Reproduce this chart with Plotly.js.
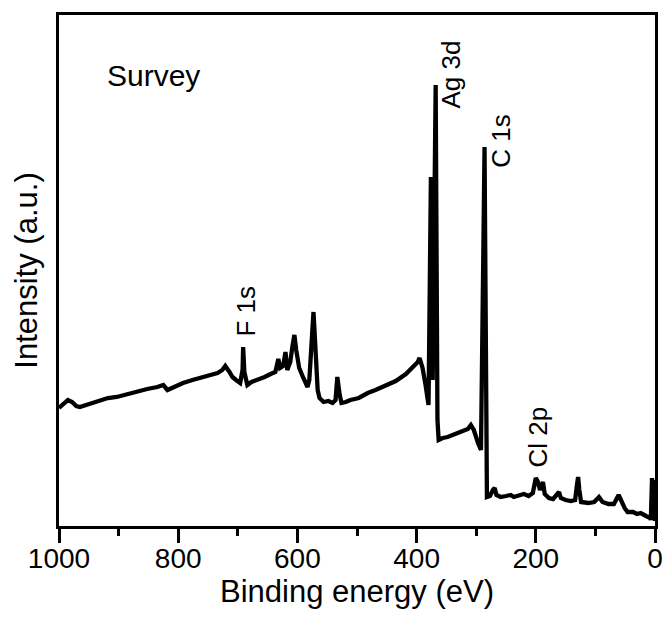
<!DOCTYPE html>
<html>
<head>
<meta charset="utf-8">
<script src="https://cdn.plot.ly/plotly-3.0.1.min.js"></script>
<style>html,body{margin:0;padding:0;background:#fff;}#chart{width:667px;height:621px;}</style>
</head>
<body>
<div id="chart"></div>
<script>
// Binding energy (eV)
const bindingEnergy = [1000,992,985,978,971,965,955,943,931,918,903,886,869,852,835,825,818,805,792,776,763,750,734,726,721,714,709,703,696,692,691,689,684,677,667,655,645,637,632,629,624,620,617,612,608,605,602,597,590,583,580,576,573,570,566,563,556,548,541,536,533,529,526,519,511,497,482,469,452,435,418,405,398,395,390,385,380,376,373,368,365,363,356,348,339,331,323,314,309,304,297,292,289,286,282,277,272,269,266,259,250,242,237,229,220,212,205,200,197,193,188,185,178,171,165,161,158,150,141,134,131,129,127,124,112,102,94,88,78,69,61,56,51,46,37,30,24,15,8,7,5,3,2,0];
// Intensity (a.u.)
const intensity = [118,122,126,124,120,119,121,123,125,128,129,132,134,137,139,141,136,140,143,146,148,150,153,156,160,154,149,146,143,156,179,154,141,144,146,149,152,154,167,158,160,174,156,164,181,191,176,158,148,139,146,186,214,181,136,128,124,125,123,126,149,131,123,124,126,128,133,136,140,145,152,159,164,168,158,141,121,349,146,441,106,86,88,89,91,93,95,97,101,96,83,76,226,379,29,30,36,38,31,29,30,31,29,30,32,30,33,48,45,36,44,32,28,27,31,34,28,26,25,26,41,49,36,24,23,24,29,24,22,22,31,23,18,14,14,12,13,10,8,6,48,6,46,5];

const tickValues = [0,200,400,600,800,1000];
const tickLabels = ["0","200","400","600","800","1000"];

const peakLabels = ["Ag 3d","C 1s","F 1s","Cl 2p"];
const peakLabelX = [343,259,687,197];
const peakLabelY = [451,385,215,89];

const FONT = "Liberation Sans, Arial, Helvetica, sans-serif";

const annotations = peakLabels.map((t,i)=>({
  text:t, x:peakLabelX[i], y:peakLabelY[i], xref:'x', yref:'y',
  showarrow:false, textangle:-90, xanchor:'center', yanchor:'middle',
  font:{family:FONT,size:26,color:'#000'}
}));
annotations.push({
  text:'Survey', x:0.158, y:0.881, xref:'paper', yref:'paper',
  showarrow:false, xanchor:'center', yanchor:'middle',
  font:{family:FONT,size:30,color:'#000'}
});

const trace = {
  x: bindingEnergy, y: intensity, type:'scatter', mode:'lines',
  line:{color:'#000', width:4.3}, hoverinfo:'skip'
};

const layout = {
  width:667, height:621,
  margin:{l:59, r:12, t:15, b:95, pad:0},
  paper_bgcolor:'#fff', plot_bgcolor:'#fff',
  showlegend:false,
  font:{family:FONT, color:'#000'},
  xaxis:{
    range:[1000,0], tickvals:tickValues, ticktext:tickLabels,
    ticks:'outside', ticklen:14, tickwidth:3, tickcolor:'#000',
    ticklabelstandoff:-9,
    minor:{tickvals:[100,300,500,700,900], ticks:'outside', ticklen:7, tickwidth:3, tickcolor:'#000', showgrid:false},
    showline:true, mirror:true, linewidth:3.3, linecolor:'#000',
    showgrid:false, zeroline:false,
    tickfont:{family:FONT, size:28, color:'#000'},
    title:{text:'Binding energy (eV)', font:{family:FONT, size:31, color:'#000'}, standoff:0}
  },
  yaxis:{
    range:[0,511], showticklabels:false, ticks:'',
    showline:true, mirror:true, linewidth:3.3, linecolor:'#000',
    showgrid:false, zeroline:false,
    title:{text:'Intensity (a.u.)', font:{family:FONT, size:31, color:'#000'}, standoff:10}
  },
  annotations: annotations
};

Plotly.newPlot('chart',[trace],layout,{staticPlot:true, displayModeBar:false});
</script>
</body>
</html>
